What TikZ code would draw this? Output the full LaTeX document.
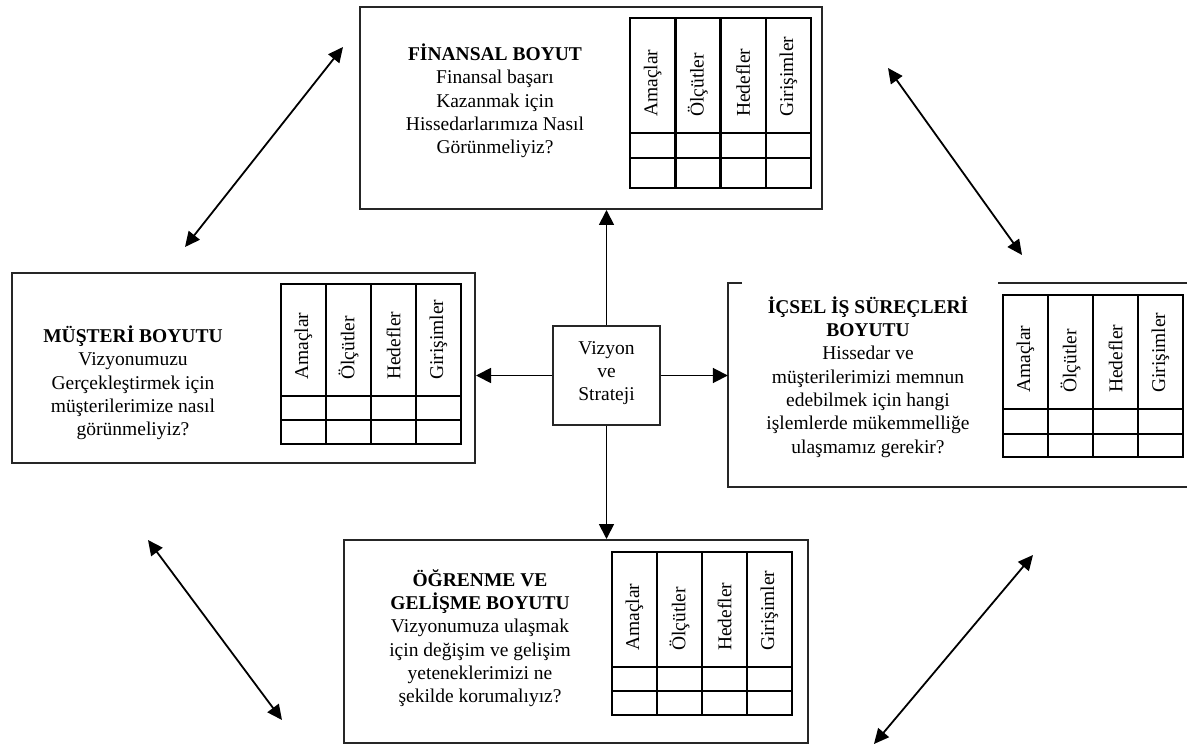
\documentclass[tikz,border=0pt]{standalone}
\usepackage{fontspec}
\setmainfont{Liberation Serif}
\usetikzlibrary{arrows.meta,calc}
\tikzset{
  outer/.style={draw=black!85, line width=2pt, inner sep=0pt, fill=none},
  gridln/.style={line width=2.5pt, black},
  txt/.style={align=center, font=\fontsize{19.5}{23.3}\selectfont, inner sep=0pt},
  hdr/.style={rotate=90, anchor=west, font=\fontsize{19.5}{23.3}\selectfont, inner sep=0pt},
  arr/.style={line width=1.8pt, -{Triangle[length=15pt,width=15pt]}},
  darr/.style={line width=1.8pt, {Triangle[length=15pt,width=14pt]}-{Triangle[length=15pt,width=14pt]}},
}
\newcommand\bsctab[7]{%
  \draw[gridln] (#2,#4) rectangle (#3,#7);
  \draw[gridln] (#2,#5) -- (#3,#5) (#2,#6) -- (#3,#6);
  \foreach \i in {1,2,3} {
    \pgfmathsetmacro\lx{#2+\i*(#3-#2)/4}
    \draw[gridln] (\lx,#4) -- (\lx,#7);
  }
  \foreach \lab [count=\i from 0] in {Amaçlar,Ölçütler,Hedefler,Girişimler} {
    \pgfmathsetmacro\cx{#2+(\i+0.5)*(#3-#2)/4}
    \node[hdr] (#1-h\i) at (\cx,#5-16) {\lab};
  }
}
\begin{document}
\begin{tikzpicture}[x=1pt,y=-1pt]
\useasboundingbox (0,0) rectangle (1187,746);

% outer boxes
\node[outer, minimum width=462pt, minimum height=202pt] (fin) at (591,108) {};
\node[outer, minimum width=463pt, minimum height=190pt] (mus) at (243.5,368) {};
\node[outer, minimum width=464pt, minimum height=203pt] (ogr) at (576,641.5) {};
\node[inner sep=0pt, minimum width=459pt, minimum height=204pt] (ic) at (957.5,385) {};
\draw[draw=black!85, line width=2pt] (998,283) -- (1187,283);
\draw[draw=black!85, line width=2pt] (742,283) -- (728,283) -- (728,487) -- (1187,487);
\node[outer, minimum width=107pt, minimum height=99pt] (vis) at (606.5,375.5) {};

% texts
\node[txt] (fin-t) at (495,101) {\textbf{FİNANSAL BOYUT}\\Finansal başarı\\Kazanmak için\\Hissedarlarımıza Nasıl\\Görünmeliyiz?};
\node[txt] (mus-t) at (133,383) {\textbf{MÜŞTERİ BOYUTU}\\Vizyonumuzu\\Gerçekleştirmek için\\müşterilerimize nasıl\\görünmeliyiz?};
\node[txt] (ic-t) at (868,377) {\textbf{İÇSEL İŞ SÜREÇLERİ}\\\textbf{BOYUTU}\\Hissedar ve\\müşterilerimizi memnun\\edebilmek için hangi\\işlemlerde mükemmelliğe\\ulaşmamız gerekir?};
\node[txt] (ogr-t) at (480,638) {\textbf{ÖĞRENME VE}\\\textbf{GELİŞME BOYUTU}\\Vizyonumuza ulaşmak\\için değişim ve gelişim\\yeteneklerimizi ne\\şekilde korumalıyız?};
\node[txt] (vis-t) at (606.5,373) {Vizyon\\ve\\Strateji};

% tables
\bsctab{ft}{630}{811}{18}{133}{158}{188}
\bsctab{mt}{281}{461}{284}{396}{420}{444}
\bsctab{it}{1003}{1183}{295}{409}{434}{457}
\bsctab{ot}{612}{792}{552}{667}{691}{715}

% central arrows
\draw[arr] (vis.north) -- (vis.north |- fin.south);
\draw[arr] (vis.south) -- (vis.south |- ogr.north);
\draw[arr] (vis.west) -- (vis.west -| mus.east);
\draw[arr] (vis.east) -- (vis.east -| ic.west);

% diagonal double arrows
\coordinate (d1a) at (343,47);  \coordinate (d1b) at (185,247);
\coordinate (d2a) at (888,68);  \coordinate (d2b) at (1022,255);
\coordinate (d3a) at (148,540); \coordinate (d3b) at (282,720);
\coordinate (d4a) at (1033,555);\coordinate (d4b) at (874,744);
\draw[darr] (d1a) -- (d1b);
\draw[darr] (d2a) -- (d2b);
\draw[darr] (d3a) -- (d3b);
\draw[darr] (d4a) -- (d4b);
\end{tikzpicture}
\end{document}
